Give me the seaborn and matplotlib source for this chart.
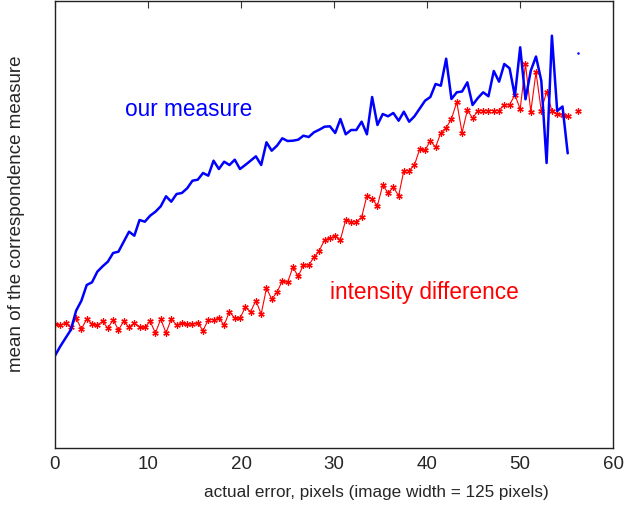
import numpy as np
import pandas as pd
import matplotlib
matplotlib.use("Agg")
import matplotlib.pyplot as plt
import seaborn as sns

# sample positions (actual error, pixels)
actual_error = [
    0.00, 0.57, 1.14, 1.71, 2.27, 2.84, 3.41, 3.98, 4.55, 5.12,
    5.68, 6.25, 6.82, 7.39, 7.96, 8.53, 9.09, 9.66, 10.23, 10.80,
    11.37, 11.94, 12.50, 13.07, 13.64, 14.21, 14.78, 15.35, 15.92, 16.48,
    17.05, 17.62, 18.19, 18.76, 19.33, 19.89, 20.46, 21.03, 21.60, 22.17,
    22.74, 23.30, 23.87, 24.44, 25.01, 25.58, 26.15, 26.71, 27.28, 27.85,
    28.42, 28.99, 29.56, 30.13, 30.69, 31.26, 31.83, 32.40, 32.97, 33.54,
    34.10, 34.67, 35.24, 35.81, 36.38, 36.95, 37.51, 38.08, 38.65, 39.22,
    39.79, 40.36, 40.92, 41.49, 42.06, 42.63, 43.20, 43.77, 44.34, 44.90,
    45.47, 46.04, 46.61, 47.18, 47.75, 48.31, 48.88, 49.45, 50.02, 50.59,
    51.16, 51.72, 52.29, 52.86, 53.43, 54.00, 54.57, 55.13, 55.70, 56.27,
]

# mean of the correspondence measure (arbitrary units)
our_measure = [
    92.3, 101.7, 110.0, 118.3, 137.3, 147.3, 163.0, 165.7, 176.3, 181.7,
    186.3, 195.0, 196.3, 206.3, 216.3, 212.3, 228.0, 226.3, 232.3, 236.3,
    241.7, 251.7, 246.3, 254.0, 255.0, 259.7, 267.3, 268.3, 275.0, 272.3,
    287.3, 279.0, 286.3, 283.0, 288.3, 279.0, 283.0, 287.3, 291.7, 283.0,
    305.7, 297.3, 302.3, 309.7, 307.0, 307.3, 308.3, 312.3, 311.0, 315.7,
    318.3, 321.3, 321.7, 315.0, 329.0, 313.7, 318.0, 318.0, 326.3, 313.7,
    351.0, 323.0, 334.0, 331.7, 335.0, 327.3, 336.3, 326.3, 331.7, 339.5,
    347.3, 351.0, 364.0, 362.3, 389.3, 349.0, 355.7, 356.5, 365.7, 343.0,
    350.0, 355.7, 351.7, 377.0, 366.3, 384.0, 379.7, 352.0, 400.7, 348.7,
    377.3, 391.5, 367.3, 285.0, 412.3, 337.0, 341.5, 294.7, np.nan, 395.0,
]

intensity_difference = [
    124.0, 123.0, 124.7, 120.7, 129.7, 119.0, 129.0, 124.0, 123.0, 126.7,
    119.7, 128.3, 118.0, 126.7, 120.7, 125.0, 120.7, 120.7, 126.7, 115.0,
    129.0, 115.0, 129.0, 123.0, 125.0, 124.0, 124.0, 125.0, 117.5, 128.3,
    128.3, 129.7, 123.0, 136.3, 129.7, 129.7, 140.7, 136.3, 147.3, 134.0,
    159.7, 149.0, 155.7, 167.3, 165.7, 180.7, 171.7, 183.0, 183.0, 190.7,
    197.3, 208.3, 209.7, 211.7, 208.3, 228.3, 226.3, 226.3, 230.7, 252.3,
    249.0, 242.3, 263.0, 255.0, 260.7, 252.3, 277.3, 277.3, 283.0, 299.0,
    297.7, 307.3, 300.7, 315.3, 320.3, 329.0, 346.0, 315.3, 338.0, 329.7,
    337.5, 337.5, 337.5, 337.5, 337.5, 343.3, 343.2, 353.2, 339.0, 384.0,
    336.3, 375.7, 337.3, 356.5, 337.0, 334.5, 333.0, 331.7, np.nan, 337.3,
]

x_ticks = [0, 10, 20, 30, 40, 50, 60]
label_our = "our measure"
label_int = "intensity difference"
x_label = "actual error, pixels (image width = 125 pixels)"
y_label = "mean of the correspondence measure"

sns.set_style("white")
plt.rcParams["font.family"] = ["Liberation Sans", "DejaVu Sans"]

fig = plt.figure(figsize=(6.44, 5.06), dpi=100)
ax = fig.add_axes([55 / 644, 1 - 449 / 506, 558 / 644, 447 / 506])

df = pd.DataFrame({"x": actual_error, "ours": our_measure, "inten": intensity_difference})


def segments(col):
    vals = df[col].to_numpy()
    valid = ~np.isnan(vals)
    segs, start = [], None
    for i, v in enumerate(valid):
        if v and start is None:
            start = i
        if (not v or i == len(valid) - 1) and start is not None:
            end = i + 1 if v else i
            segs.append(df.iloc[start:end])
            start = None
    return segs


asterisk = (6, 2, 0)
for seg in segments("inten"):
    sns.lineplot(data=seg, x="x", y="inten", ax=ax, color="#ff0000", linewidth=0.8,
                 marker=asterisk, markersize=4.6, markeredgewidth=0.9,
                 markeredgecolor="#ff0000", estimator=None, sort=False)

for seg in segments("ours"):
    if len(seg) == 1:
        sns.lineplot(data=seg, x="x", y="ours", ax=ax, color="#0000ff", linewidth=1.8,
                     marker="o", markersize=1.8, markeredgewidth=0,
                     estimator=None, sort=False)
    else:
        sns.lineplot(data=seg, x="x", y="ours", ax=ax, color="#0000ff", linewidth=1.8,
                     estimator=None, sort=False)

ax.set_xlim(0, 60)
ax.set_ylim(0, 447)
ax.set_xticks(x_ticks)
ax.set_xticklabels([str(t) for t in x_ticks], fontsize=13.5)
ax.set_yticks([])
ax.tick_params(axis="x", direction="in", length=5, width=0.8, top=True, pad=5,
               color="#333333")
for s in ax.spines.values():
    s.set_visible(True)
    s.set_color("#222222")
    s.set_linewidth(1.0)

ax.text(7.53, 333.3, label_our, color="#0000ff", fontsize=16.3, va="baseline", ha="left")
ax.text(29.57, 149.7, label_int, color="#ff0000", fontsize=16.3, va="baseline", ha="left")

ax.set_xlabel(x_label, fontsize=12.3)
ax.xaxis.set_label_coords(0.576, -0.080)
ax.set_ylabel(y_label, fontsize=13.5)
ax.yaxis.set_label_coords(-0.054, 0.526)

fig.savefig("out.png", dpi=100)
